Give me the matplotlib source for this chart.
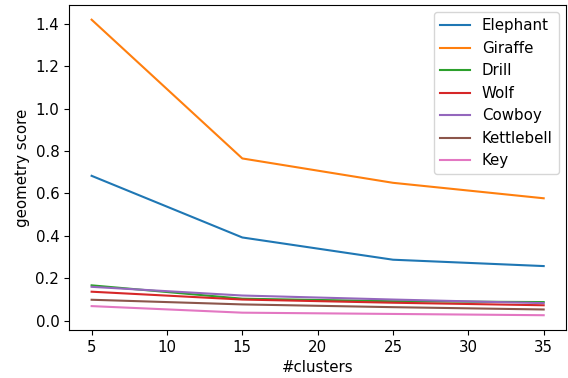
import matplotlib
matplotlib.use('Agg')
import matplotlib.pyplot as plt

clusters = [5, 15, 25, 35]
names = ['Elephant', 'Giraffe', 'Drill', 'Wolf', 'Cowboy', 'Kettlebell', 'Key']
elephant = [0.683, 0.392, 0.287, 0.257]
giraffe = [1.42, 0.765, 0.65, 0.577]
drill = [0.166, 0.103, 0.091, 0.087]
wolf = [0.136, 0.099, 0.084, 0.072]
cowboy = [0.159, 0.118, 0.099, 0.082]
kettlebell = [0.098, 0.076, 0.063, 0.052]
key = [0.068, 0.037, 0.031, 0.025]

series = [elephant, giraffe, drill, wolf, cowboy, kettlebell, key]

plt.rcParams['font.size'] = 10.8

fig = plt.figure(figsize=(5.68, 3.78), dpi=100)
for name, vals in zip(names, series):
    plt.plot(clusters, vals, label=name)
plt.xlabel('#clusters')
plt.ylabel('geometry score')
plt.legend()
plt.subplots_adjust(left=0.1215, right=0.997, top=0.987, bottom=0.127)
plt.savefig('out.png', dpi=100)
